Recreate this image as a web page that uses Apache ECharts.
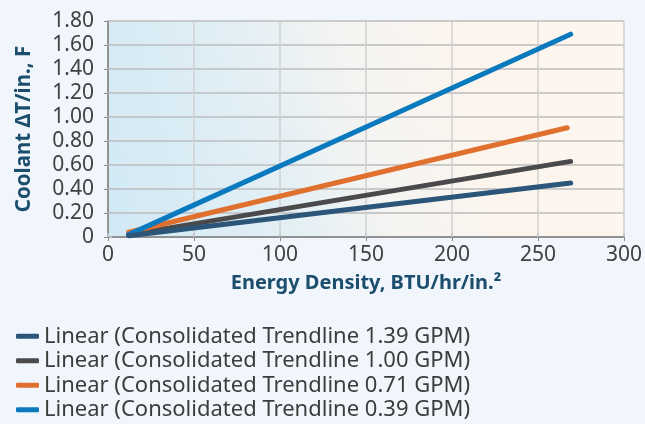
<!DOCTYPE html>
<html>
<head>
<meta charset="utf-8">
<script src="https://cdn.jsdelivr.net/npm/echarts@6/dist/echarts.min.js"></script>
<style>
  html, body { margin: 0; padding: 0; background: #f0f6fc; }
  #chart { width: 645px; height: 424px; }
</style>
</head>
<body>
<div id="chart"></div>
<script>
// Trendline endpoints: [energy density, coolant ΔT per inch]
const seriesNames = [
  'Linear (Consolidated Trendline 1.39 GPM)',
  'Linear (Consolidated Trendline 1.00 GPM)',
  'Linear (Consolidated Trendline 0.71 GPM)',
  'Linear (Consolidated Trendline 0.39 GPM)'
];
const trend139 = [[12, 0.01], [269, 0.45]];
const trend100 = [[12, 0.02], [269, 0.63]];
const trend071 = [[12, 0.04], [267, 0.91]];
const trend039 = [[12, 0.02], [269, 1.69]];
const seriesColors = ['#2b5679', '#4a4a4c', '#e0702e', '#0b79bd'];

const FONT = '"Noto Sans", "Open Sans", sans-serif';
const TITLE_COLOR = '#1b4d6c';
const LABEL_COLOR = '#404040';
const chart = echarts.init(document.getElementById('chart'));

const dataSets = [trend139, trend100, trend071, trend039];

// Frame axes on the top and right edges, ticks poking outward
const frameAxis = {
  type: 'value',
  axisLine: { show: true, lineStyle: { color: '#8f8f8f', width: 1.5 } },
  axisTick: { show: true, length: 4, lineStyle: { color: '#c4c4c4', width: 1.5 } },
  axisLabel: { show: false },
  splitLine: { show: false }
};

chart.setOption({
  backgroundColor: '#f0f6fc',
  textStyle: { fontFamily: FONT },
  grid: {
    left: 108, right: 15, top: 21, bottom: 187,
    show: true,
    borderWidth: 0,
    backgroundColor: new echarts.graphic.LinearGradient(0, 0.8, 1, 0.2, [
      { offset: 0, color: '#d2e9f5' },
      { offset: 0.3, color: '#e2eff5' },
      { offset: 0.5, color: '#f4f4f2' },
      { offset: 0.7, color: '#fcf5ee' },
      { offset: 1, color: '#fdf6ef' }
    ])
  },
  legend: {
    orient: 'vertical',
    left: 16, top: 325,
    padding: 0,
    itemWidth: 23, itemHeight: 5,
    itemGap: 2,
    icon: 'roundRect',
    textStyle: { fontFamily: FONT, fontSize: 22, lineHeight: 22.5, color: '#3c3c3c' },
    data: seriesNames
  },
  xAxis: [{
    type: 'value', min: 0, max: 300, interval: 50,
    name: 'Energy Density, BTU/hr/in.²',
    nameLocation: 'middle', nameGap: 36,
    nameTextStyle: { fontFamily: FONT, fontSize: 20, fontWeight: 'bold', color: TITLE_COLOR },
    axisLine: { show: true, lineStyle: { color: '#8a8a8a', width: 1.5 } },
    axisTick: { show: true, length: 4, lineStyle: { color: '#8a8a8a' } },
    axisLabel: { fontFamily: FONT, fontSize: 21, color: LABEL_COLOR, margin: 8 },
    splitLine: { show: true, lineStyle: { color: '#d0d0d0', width: 1.5 } }
  }, Object.assign({}, frameAxis, { position: 'top', min: 0, max: 300, interval: 50 })],
  yAxis: [{
    type: 'value', min: 0, max: 1.8, interval: 0.2,
    name: 'Coolant ΔT/in., F',
    nameLocation: 'middle', nameGap: 73,
    nameTextStyle: { fontFamily: FONT, fontSize: 20.5, fontWeight: 'bold', color: TITLE_COLOR },
    axisLine: { show: true, lineStyle: { color: '#8a8a8a', width: 1.5 } },
    axisTick: { show: true, length: 4, lineStyle: { color: '#8a8a8a' } },
    axisLabel: {
      fontFamily: FONT, fontSize: 21, color: LABEL_COLOR, margin: 14,
      formatter: v => v === 0 ? '0' : v.toFixed(2)
    },
    splitLine: { show: true, lineStyle: { color: '#bcbcbc', width: 1.5 } }
  }, Object.assign({}, frameAxis, { position: 'right', min: 0, max: 1.8, interval: 0.2 })],
  series: seriesNames.map((name, i) => ({
    name,
    type: 'line',
    data: dataSets[i],
    symbol: 'none',
    color: seriesColors[i],
    lineStyle: { width: 5, cap: 'round', color: seriesColors[i] },
    z: 3 + (i === 0 ? 4 : i)
  }))
});
</script>
</body>
</html>
